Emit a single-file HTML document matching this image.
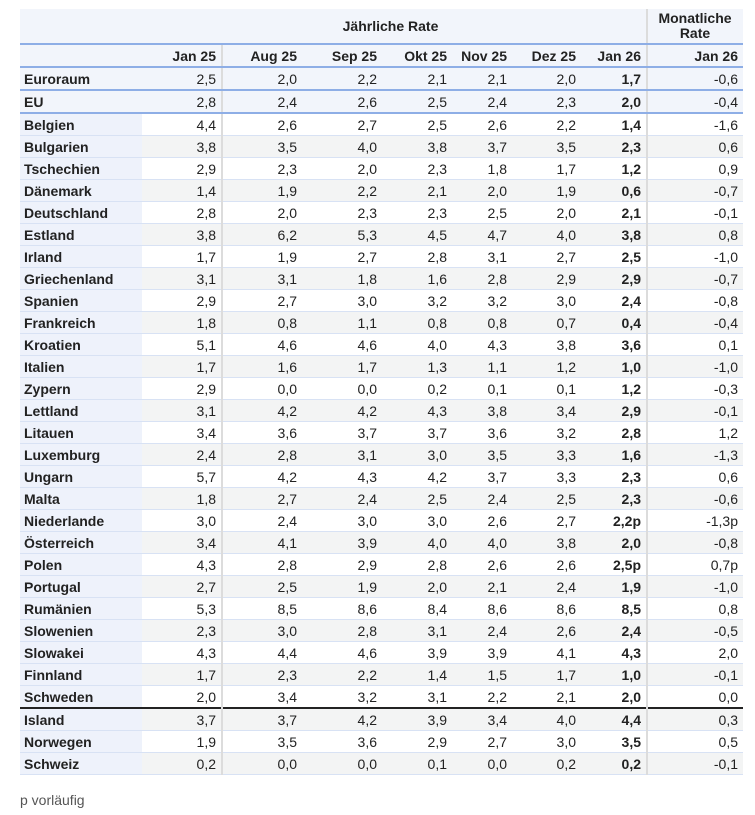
<!DOCTYPE html>
<html><head><meta charset="utf-8"><style>
body{margin:0;background:#fff;font-family:"Liberation Sans",Arial,sans-serif;color:#222;width:755px;height:815px;overflow:hidden}
table{position:absolute;left:20px;top:9px;border-collapse:collapse;table-layout:fixed;font-size:14px}
td,th{padding:0 5px 0 4px;height:21px;text-align:right;white-space:nowrap;border-bottom:1px solid #d8e2f4}
th{font-weight:bold;background:#f2f5fb}
td.l{text-align:left;font-weight:bold;background:#eef2fb}
tr.o td{background:#f3f4f4}
tr.o td.l{background:#eef2fb}
tr.b td{background:#f2f5fb;border-bottom:2px solid #8eaee6}
tr.b td.l{background:#f2f5fb}
.s{border-left:2px solid #dcdcdc}
td.k{font-weight:bold}
tr.h1 th{height:34px;border-bottom:2px solid #8eaee6;text-align:center}
tr.h2 th{height:21px;border-bottom:2px solid #8eaee6}
tr.t td{border-top:2px solid #222}
.foot{position:absolute;left:20px;top:792px;font-size:14px;color:#555}
</style></head><body>
<table>
<colgroup><col style="width:122px"><col style="width:80px"><col style="width:80px"><col style="width:80px"><col style="width:70px"><col style="width:60px"><col style="width:69px"><col style="width:66px"><col style="width:96px"></colgroup>
<tr class="h1"><th colspan="8" style="padding-left:120px">Jährliche Rate</th><th class="s" style="line-height:15px">Monatliche<br>Rate</th></tr>
<tr class="h2"><th></th><th>Jan 25</th><th class="s">Aug 25</th><th>Sep 25</th><th>Okt 25</th><th>Nov 25</th><th>Dez 25</th><th>Jan 26</th><th class="s">Jan 26</th></tr>
<tr class="b"><td class="l">Euroraum</td><td>2,5</td><td class="s">2,0</td><td>2,2</td><td>2,1</td><td>2,1</td><td>2,0</td><td class="k">1,7</td><td class="s">-0,6</td></tr>
<tr class="b"><td class="l">EU</td><td>2,8</td><td class="s">2,4</td><td>2,6</td><td>2,5</td><td>2,4</td><td>2,3</td><td class="k">2,0</td><td class="s">-0,4</td></tr>
<tr><td class="l">Belgien</td><td>4,4</td><td class="s">2,6</td><td>2,7</td><td>2,5</td><td>2,6</td><td>2,2</td><td class="k">1,4</td><td class="s">-1,6</td></tr>
<tr class="o"><td class="l">Bulgarien</td><td>3,8</td><td class="s">3,5</td><td>4,0</td><td>3,8</td><td>3,7</td><td>3,5</td><td class="k">2,3</td><td class="s">0,6</td></tr>
<tr><td class="l">Tschechien</td><td>2,9</td><td class="s">2,3</td><td>2,0</td><td>2,3</td><td>1,8</td><td>1,7</td><td class="k">1,2</td><td class="s">0,9</td></tr>
<tr class="o"><td class="l">Dänemark</td><td>1,4</td><td class="s">1,9</td><td>2,2</td><td>2,1</td><td>2,0</td><td>1,9</td><td class="k">0,6</td><td class="s">-0,7</td></tr>
<tr><td class="l">Deutschland</td><td>2,8</td><td class="s">2,0</td><td>2,3</td><td>2,3</td><td>2,5</td><td>2,0</td><td class="k">2,1</td><td class="s">-0,1</td></tr>
<tr class="o"><td class="l">Estland</td><td>3,8</td><td class="s">6,2</td><td>5,3</td><td>4,5</td><td>4,7</td><td>4,0</td><td class="k">3,8</td><td class="s">0,8</td></tr>
<tr><td class="l">Irland</td><td>1,7</td><td class="s">1,9</td><td>2,7</td><td>2,8</td><td>3,1</td><td>2,7</td><td class="k">2,5</td><td class="s">-1,0</td></tr>
<tr class="o"><td class="l">Griechenland</td><td>3,1</td><td class="s">3,1</td><td>1,8</td><td>1,6</td><td>2,8</td><td>2,9</td><td class="k">2,9</td><td class="s">-0,7</td></tr>
<tr><td class="l">Spanien</td><td>2,9</td><td class="s">2,7</td><td>3,0</td><td>3,2</td><td>3,2</td><td>3,0</td><td class="k">2,4</td><td class="s">-0,8</td></tr>
<tr class="o"><td class="l">Frankreich</td><td>1,8</td><td class="s">0,8</td><td>1,1</td><td>0,8</td><td>0,8</td><td>0,7</td><td class="k">0,4</td><td class="s">-0,4</td></tr>
<tr><td class="l">Kroatien</td><td>5,1</td><td class="s">4,6</td><td>4,6</td><td>4,0</td><td>4,3</td><td>3,8</td><td class="k">3,6</td><td class="s">0,1</td></tr>
<tr class="o"><td class="l">Italien</td><td>1,7</td><td class="s">1,6</td><td>1,7</td><td>1,3</td><td>1,1</td><td>1,2</td><td class="k">1,0</td><td class="s">-1,0</td></tr>
<tr><td class="l">Zypern</td><td>2,9</td><td class="s">0,0</td><td>0,0</td><td>0,2</td><td>0,1</td><td>0,1</td><td class="k">1,2</td><td class="s">-0,3</td></tr>
<tr class="o"><td class="l">Lettland</td><td>3,1</td><td class="s">4,2</td><td>4,2</td><td>4,3</td><td>3,8</td><td>3,4</td><td class="k">2,9</td><td class="s">-0,1</td></tr>
<tr><td class="l">Litauen</td><td>3,4</td><td class="s">3,6</td><td>3,7</td><td>3,7</td><td>3,6</td><td>3,2</td><td class="k">2,8</td><td class="s">1,2</td></tr>
<tr class="o"><td class="l">Luxemburg</td><td>2,4</td><td class="s">2,8</td><td>3,1</td><td>3,0</td><td>3,5</td><td>3,3</td><td class="k">1,6</td><td class="s">-1,3</td></tr>
<tr><td class="l">Ungarn</td><td>5,7</td><td class="s">4,2</td><td>4,3</td><td>4,2</td><td>3,7</td><td>3,3</td><td class="k">2,3</td><td class="s">0,6</td></tr>
<tr class="o"><td class="l">Malta</td><td>1,8</td><td class="s">2,7</td><td>2,4</td><td>2,5</td><td>2,4</td><td>2,5</td><td class="k">2,3</td><td class="s">-0,6</td></tr>
<tr><td class="l">Niederlande</td><td>3,0</td><td class="s">2,4</td><td>3,0</td><td>3,0</td><td>2,6</td><td>2,7</td><td class="k">2,2p</td><td class="s">-1,3p</td></tr>
<tr class="o"><td class="l">Österreich</td><td>3,4</td><td class="s">4,1</td><td>3,9</td><td>4,0</td><td>4,0</td><td>3,8</td><td class="k">2,0</td><td class="s">-0,8</td></tr>
<tr><td class="l">Polen</td><td>4,3</td><td class="s">2,8</td><td>2,9</td><td>2,8</td><td>2,6</td><td>2,6</td><td class="k">2,5p</td><td class="s">0,7p</td></tr>
<tr class="o"><td class="l">Portugal</td><td>2,7</td><td class="s">2,5</td><td>1,9</td><td>2,0</td><td>2,1</td><td>2,4</td><td class="k">1,9</td><td class="s">-1,0</td></tr>
<tr><td class="l">Rumänien</td><td>5,3</td><td class="s">8,5</td><td>8,6</td><td>8,4</td><td>8,6</td><td>8,6</td><td class="k">8,5</td><td class="s">0,8</td></tr>
<tr class="o"><td class="l">Slowenien</td><td>2,3</td><td class="s">3,0</td><td>2,8</td><td>3,1</td><td>2,4</td><td>2,6</td><td class="k">2,4</td><td class="s">-0,5</td></tr>
<tr><td class="l">Slowakei</td><td>4,3</td><td class="s">4,4</td><td>4,6</td><td>3,9</td><td>3,9</td><td>4,1</td><td class="k">4,3</td><td class="s">2,0</td></tr>
<tr class="o"><td class="l">Finnland</td><td>1,7</td><td class="s">2,3</td><td>2,2</td><td>1,4</td><td>1,5</td><td>1,7</td><td class="k">1,0</td><td class="s">-0,1</td></tr>
<tr><td class="l">Schweden</td><td>2,0</td><td class="s">3,4</td><td>3,2</td><td>3,1</td><td>2,2</td><td>2,1</td><td class="k">2,0</td><td class="s">0,0</td></tr>
<tr class="o t"><td class="l">Island</td><td>3,7</td><td class="s">3,7</td><td>4,2</td><td>3,9</td><td>3,4</td><td>4,0</td><td class="k">4,4</td><td class="s">0,3</td></tr>
<tr><td class="l">Norwegen</td><td>1,9</td><td class="s">3,5</td><td>3,6</td><td>2,9</td><td>2,7</td><td>3,0</td><td class="k">3,5</td><td class="s">0,5</td></tr>
<tr class="o"><td class="l">Schweiz</td><td>0,2</td><td class="s">0,0</td><td>0,0</td><td>0,1</td><td>0,0</td><td>0,2</td><td class="k">0,2</td><td class="s">-0,1</td></tr>
</table>
<div class="foot">p vorläufig</div>
</body></html>
